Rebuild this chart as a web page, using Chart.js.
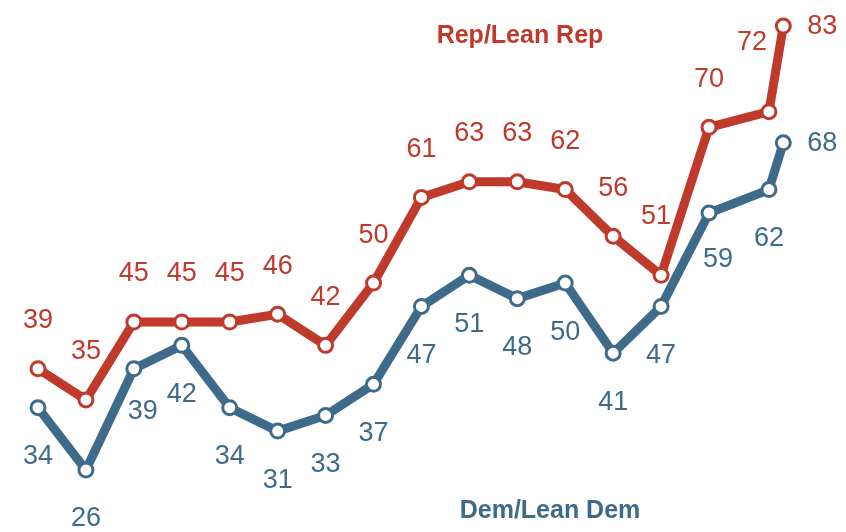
<!DOCTYPE html>
<html>
<head>
<meta charset="utf-8">
<script src="https://cdn.jsdelivr.net/npm/chart.js@4.4.1/dist/chart.umd.min.js"></script>
<style>
  html, body { margin: 0; padding: 0; background: #fff; }
  #wrap { position: relative; width: 846px; height: 532px; }
</style>
</head>
<body>
<div id="wrap"><canvas id="partyChart"></canvas></div>
<script>
/* global Chart */

// survey dates (last two are the 2020 spring and summer waves)
const years = [2005, 2006, 2007, 2008, 2009, 2010, 2011, 2012, 2013, 2014,
               2015, 2016, 2017, 2018, 2019, 2020.25, 2020.55];
const repValues = [39, 35, 45, 45, 45, 46, 42, 50, 61, 63, 63, 62, 56, 51, 70, 72, 83];
const demValues = [34, 26, 39, 42, 34, 31, 33, 37, 47, 51, 48, 50, 41, 47, 59, 62, 68];
const repName = 'Rep/Lean Rep';
const demName = 'Dem/Lean Dem';

const RED = '#bf3a2b';
const BLUE = '#3f6b8b';

// where each value label sits relative to its point (dx, dy in px)
const repLabelShift = repValues.map(() => [0, -49]);
repLabelShift[13] = [-5, -60];
repLabelShift[15] = [-17, -70];
repLabelShift[16] = [39, 0];
const demLabelShift = demValues.map(() => [0, 48]);
demLabelShift[2] = [9, 42];
demLabelShift[14] = [9, 46];
demLabelShift[16] = [39, 0];

// writes the numbers next to every point plus the two series names
const valueLabels = {
    id: 'valueLabels',
    afterDatasetsDraw(chart) {
        const ctx = chart.ctx;
        ctx.save();
        ctx.textAlign = 'center';
        ctx.textBaseline = 'middle';
        ctx.font = '27px "Liberation Sans", Arial, sans-serif';
        chart.data.datasets.forEach((ds, di) => {
            const meta = chart.getDatasetMeta(di);
            ctx.fillStyle = ds.borderColor;
            meta.data.forEach((pt, i) => {
                const s = ds.labelShift[i];
                ctx.fillText(String(ds.data[i].y), pt.x + s[0], pt.y + s[1] + 1);
            });
        });
        // series names
        ctx.font = 'bold 25px "Liberation Sans", Arial, sans-serif';
        ctx.fillStyle = RED;
        ctx.fillText(repName, 520, 36);
        ctx.fillStyle = BLUE;
        ctx.fillText(demName, 550, 511);
        ctx.restore();
    }
};

const toPoints = vals => vals.map((v, i) => ({ x: years[i], y: v }));

const context = document.getElementById('partyChart').getContext('2d');
new Chart(context, {
    type: 'line',
    data: {
        datasets: [{
            label: demName,
            data: toPoints(demValues),
            borderColor: BLUE,
            labelShift: demLabelShift,
            borderWidth: 9,
            pointRadius: 7,
            pointBorderWidth: 3,
            pointBackgroundColor: '#fff',
            pointBorderColor: BLUE,
            clip: false
        }, {
            label: repName,
            data: toPoints(repValues),
            borderColor: RED,
            labelShift: repLabelShift,
            borderWidth: 9,
            pointRadius: 7,
            pointBorderWidth: 3,
            pointBackgroundColor: '#fff',
            pointBorderColor: RED,
            clip: false
        }]
    },
    options: {
        responsive: true,
        maintainAspectRatio: false,
        animation: false,
        layout: { padding: 0, autoPadding: false },
        scales: {
            x: { type: 'linear', display: false, min: 2004.207, max: 2021.858 },
            y: { display: false, min: 18.04, max: 86.34 }
        },
        plugins: {
            legend: { display: false },
            tooltip: { enabled: false }
        }
    },
    plugins: [valueLabels]
});
</script>
</body>
</html>
